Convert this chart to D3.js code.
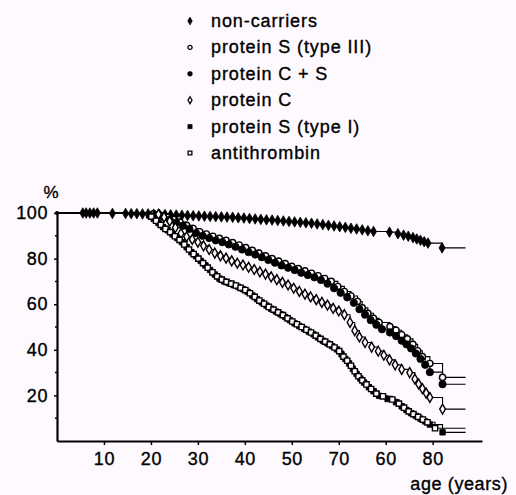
<!DOCTYPE html>
<html lang="en">
<head>
  <meta charset="UTF-8">
  <script src="https://d3js.org/d3.v7.min.js"></script>
  <style>
    html, body { margin: 0; padding: 0; background: #fef9fe; }
    svg { display: block; }
    text { font-family: "Liberation Sans", Arial, Helvetica, sans-serif; fill: #000; }
  </style>
</head>
<body>
  <script>
    const width = 516;
    const height = 495;

    // series labels (legend order)
    const seriesNames = ["non-carriers", "protein S (type III)", "protein C + S", "protein C", "protein S (type I)", "antithrombin"];

    // event-free survival, [age, %]
    const nonCarriers = [[5.5,100],[6.2,100],[7,100],[7.8,100],[8.6,100],[11.8,99.8],[14.6,99.8],[15.8,99.7],[17,99.7],[18.2,99.6],[19.4,99.6],[20.6,99.5],[21.8,99.4],[23,99.3],[24.2,99.2],[25.4,99.1],[26.6,99],[27.8,98.9],[29,98.8],[30.2,98.7],[31.4,98.6],[32.6,98.5],[33.8,98.4],[35,98.3],[36.2,98.2],[37.4,98.1],[38.6,97.9],[39.8,97.8],[41,97.6],[42.2,97.4],[43.4,97.2],[44.6,97],[45.8,96.9],[47,96.7],[48.2,96.5],[49.4,96.3],[50.6,96.1],[51.8,95.9],[53,95.7],[54.2,95.5],[55.4,95.2],[56.6,94.9],[57.8,94.6],[59,94.3],[60.2,94],[61.4,93.7],[62.6,93.3],[63.8,93],[65,92.6],[66.2,92.2],[67.4,91.9],[70.8,91.6],[72.6,90.9],[73.8,90.3],[74.8,89.8],[75.8,89.2],[76.6,88.6],[77.4,88],[78.2,87.4],[79,86.8],[82,84.7]];
    const proteinS3 = [[20.5,99.6],[22,99],[23.4,98.2],[24.8,97.2],[26.2,96],[27.6,94.6],[29,93.2],[30.4,91.8],[31.8,90.8],[33.2,89.8],[34.6,88.9],[36,88],[37.4,87],[38.8,86],[40.2,84.8],[41.6,83.6],[43,82.4],[44.4,81.2],[45.8,80],[47.2,78.9],[48.6,77.8],[50,76.6],[51.4,75.6],[52.8,74.6],[54.2,73.6],[55.6,72.5],[57,71.3],[58.4,70],[59.8,67.8],[61.2,65.6],[62.6,63.6],[64,61.2],[65,58.4],[66.2,56],[67.4,53.8],[68.6,52],[70.9,50.2],[72.2,48.6],[73.4,46.6],[74.6,44.8],[75.8,42.4],[76.8,39.6],[77.8,37],[79.4,34],[82.1,27.9]];
    const proteinCS = [[21,99.2],[22.6,98.4],[24,97],[25.4,95.8],[26.8,94.4],[28.2,93],[29.6,91.2],[31,90],[32.4,89],[33.8,88],[35.2,87.2],[36.6,86.2],[38,85.2],[39.4,84],[40.8,82.8],[42.2,81.8],[43.6,80.6],[45,79.4],[46.4,78.2],[47.8,77],[49.2,76],[50.6,75],[52,73.8],[53.4,72.8],[54.8,71.8],[56.2,70.6],[57.6,69],[59,67],[60.4,65],[61.8,63],[63.2,60.6],[64.4,57.8],[65.6,55.4],[66.8,53],[68,51],[69.2,49],[70.9,47.6],[72.2,46],[73.4,44],[74.4,42.4],[75.4,40.6],[76.4,38.4],[77.4,36],[78.4,33.4],[79.4,30.2],[82.1,24.9]];
    const proteinC = [[21.6,99.4],[22.8,98.2],[24,96.4],[25.2,93.6],[26.4,91],[27.6,89.6],[28.8,88.4],[30,87.2],[31.2,85.6],[32.4,84],[33.6,82.4],[34.8,81.2],[36,80.2],[37.2,79],[38.4,78],[39.6,77.2],[40.8,76.2],[42,75.2],[43.2,74.2],[44.4,73.2],[45.6,72],[46.8,70.8],[48,69.6],[49.2,68.4],[50.4,67],[51.6,65.6],[52.8,64.4],[54,63.2],[55.2,62],[56.4,60.8],[57.6,59.6],[58.8,58.2],[60,57],[61.2,55.4],[62.4,52],[63.4,48.4],[64.4,45.6],[65.6,43.2],[67,41.2],[68.4,39.4],[69.6,37.6],[70.8,35.6],[72,33.4],[73.4,31.4],[75.1,30],[76.2,27.2],[77,25],[77.8,23],[78.6,21],[79.4,19.1],[82.1,14]];
    const proteinS1 = [[19.6,99],[20.6,97.4],[21.6,95.6],[22.6,93.8],[23.6,92.4],[24.6,90.6],[25.6,89],[26.6,87.2],[27.6,85],[28.6,82.8],[29.6,81],[30.6,79],[31.6,77],[32.6,75],[33.6,73],[34.6,71.2],[35.6,70],[36.6,69.2],[37.6,68.4],[38.6,67.6],[39.6,66.6],[40.6,65.4],[41.6,63.8],[42.6,62.2],[43.6,60.8],[44.6,59.4],[45.6,58],[46.6,56.8],[47.6,55.6],[48.6,54.4],[49.6,53],[50.6,51.6],[51.6,50.4],[52.6,49.2],[53.6,48],[54.6,46.8],[55.6,45.4],[56.6,44],[57.6,42.8],[58.6,41.6],[59.6,40.2],[60.6,38],[61.4,36],[62.2,34],[63,31.6],[63.8,29.4],[64.6,27.4],[65.4,25.6],[66.4,23.6],[67.4,21.8],[68.6,19.8],[70.4,18.4],[72.2,17],[73.4,15.2],[74.4,13.6],[75.4,12.2],[76.4,11],[77.4,9.8],[78.4,8.6],[79.4,7.2],[82.1,3.8]];
    const antithrombin = [[20.1,98.4],[21.1,96.6],[22.1,94.8],[23.1,93],[24.1,91.6],[25.1,89.8],[26.1,88.2],[27.1,86.2],[28.1,84],[29.1,82],[30.1,80],[31.1,78],[32.1,76],[33.1,74],[34.1,72.2],[35.1,70.8],[36.1,69.8],[37.1,69],[38.1,68.2],[39.1,67.2],[40.1,66.2],[41.1,64.8],[42.1,63.2],[43.1,61.6],[44.1,60.2],[45.1,58.8],[46.1,57.6],[47.1,56.4],[48.1,55.2],[49.1,53.8],[50.1,52.4],[51.1,51.2],[52.1,50],[53.1,48.8],[54.1,47.6],[55.1,46.2],[56.1,44.8],[57.1,43.6],[58.1,42.4],[59.1,41],[60.1,39.4],[61,37],[61.8,35.2],[62.6,33],[63.4,30.6],[64.2,28.4],[65,26.6],[65.9,24.8],[66.9,22.8],[68,20.8],[69.4,19.6],[71.4,18.2],[72.8,16.4],[73.9,14.6],[74.9,13],[75.9,11.8],[76.9,10.6],[77.9,9.4],[78.9,8.2],[80.5,5.6]];

    const followUpEnd = 87;

    // axis ticks (labels as printed)
    const xTicks = [10, 20, 30, 40, 50, 60, 70, 80];
    const xTickLabels = ["10", "20", "30", "40", "50", "70", "60", "80"];
    const yTicks = [20, 40, 60, 80, 100];
    const yMinorTicks = [10, 30, 50, 70, 90];

    const series = [
      { name: seriesNames[0], data: nonCarriers, shape: d3.symbolDiamond, size: 32, open: false },
      { name: seriesNames[1], data: proteinS3, shape: d3.symbolCircle, size: 30, open: true },
      { name: seriesNames[2], data: proteinCS, shape: d3.symbolCircle, size: 42, open: false },
      { name: seriesNames[3], data: proteinC, shape: d3.symbolDiamond, size: 28, open: true },
      { name: seriesNames[4], data: proteinS1, shape: d3.symbolSquare, size: 30, open: false },
      { name: seriesNames[5], data: antithrombin, shape: d3.symbolSquare, size: 28, open: true }
    ];

    const bg = "#fef9fe";

    const svg = d3.select("body").append("svg")
      .attr("width", width)
      .attr("height", height);

    svg.append("rect").attr("width", width).attr("height", height).attr("fill", bg);

    const x = d3.scaleLinear().domain([0, 90.5]).range([57, 482]);
    const y = d3.scaleLinear().domain([0, 100]).range([441, 213]);

    // legend
    const legend = svg.append("g").attr("transform", "translate(190,21)");
    series.forEach((s, i) => {
      const row = legend.append("g").attr("transform", `translate(0,${i * 26.4})`);
      row.append("path")
        .attr("d", d3.symbol(s.shape, s.open ? 14 : 18)())
        .attr("fill", s.open ? bg : "#000")
        .attr("stroke", "#000")
        .attr("stroke-width", s.open ? 1.3 : 0.6);
      row.append("text")
        .attr("x", 21)
        .attr("y", 6)
        .attr("font-size", 18)
        .attr("letter-spacing", "0.9px")
        .attr("stroke", "#000")
        .attr("stroke-width", 0.35)
        .text(s.name);
    });

    // axes
    const yAxis = d3.axisLeft(y).tickValues(yTicks).tickSize(3).tickPadding(6).tickSizeOuter(0);
    const gy = svg.append("g").attr("transform", `translate(${x(0)},0)`).call(yAxis);
    gy.append("g").selectAll("line").data(yMinorTicks).join("line")
      .attr("x1", -2).attr("x2", 0)
      .attr("y1", d => y(d)).attr("y2", d => y(d))
      .attr("stroke", "#000").attr("stroke-width", 1.5);

    const xAxis = d3.axisBottom(x).tickValues(xTicks).tickSize(4).tickPadding(7).tickSizeOuter(0)
      .tickFormat((d, i) => xTickLabels[i]);
    const gx = svg.append("g").attr("transform", `translate(0,${y(0)})`).call(xAxis);

    [gx, gy].forEach(g => {
      g.select(".domain").attr("stroke-width", 2.2);
      g.selectAll(".tick line").attr("stroke-width", 1.5);
      g.selectAll(".tick text")
        .attr("font-size", 18)
        .attr("letter-spacing", "0.6px")
        .attr("fill", "#000")
        .attr("stroke", "#000")
        .attr("stroke-width", 0.35)
        .attr("font-family", "'Liberation Sans', Arial, Helvetica, sans-serif");
    });

    svg.append("text")
      .attr("x", 51).attr("y", 198)
      .attr("text-anchor", "middle")
      .attr("font-size", 17)
      .attr("stroke", "#000").attr("stroke-width", 0.35)
      .text("%");

    svg.append("text")
      .attr("x", 508).attr("y", 490)
      .attr("text-anchor", "end")
      .attr("font-size", 18)
      .attr("letter-spacing", "0.6px")
      .attr("stroke", "#000").attr("stroke-width", 0.35)
      .text("age (years)");

    // step curves
    const line = d3.line()
      .x(d => x(d[0]))
      .y(d => y(d[1]))
      .curve(d3.curveStepAfter);

    series.forEach(s => {
      const last = s.data[s.data.length - 1];
      const pts = [[0, 100], ...s.data, [followUpEnd, last[1]]];
      svg.append("path")
        .attr("d", line(pts))
        .attr("fill", "none")
        .attr("stroke", "#000")
        .attr("stroke-width", 1.1);
    });

    // censoring / event markers
    series.forEach(s => {
      svg.append("g").selectAll("path")
        .data(s.data)
        .join("path")
        .attr("transform", d => `translate(${x(d[0])},${y(d[1])})`)
        .attr("d", d3.symbol(s.shape, s.size)())
        .attr("fill", s.open ? bg : "#000")
        .attr("stroke", "#000")
        .attr("stroke-width", s.open ? 1.4 : 0.8);
    });

    // y axis end dot at 100
    svg.append("circle").attr("cx", x(0)).attr("cy", y(100)).attr("r", 2).attr("fill", "#000");
  </script>
</body>
</html>
